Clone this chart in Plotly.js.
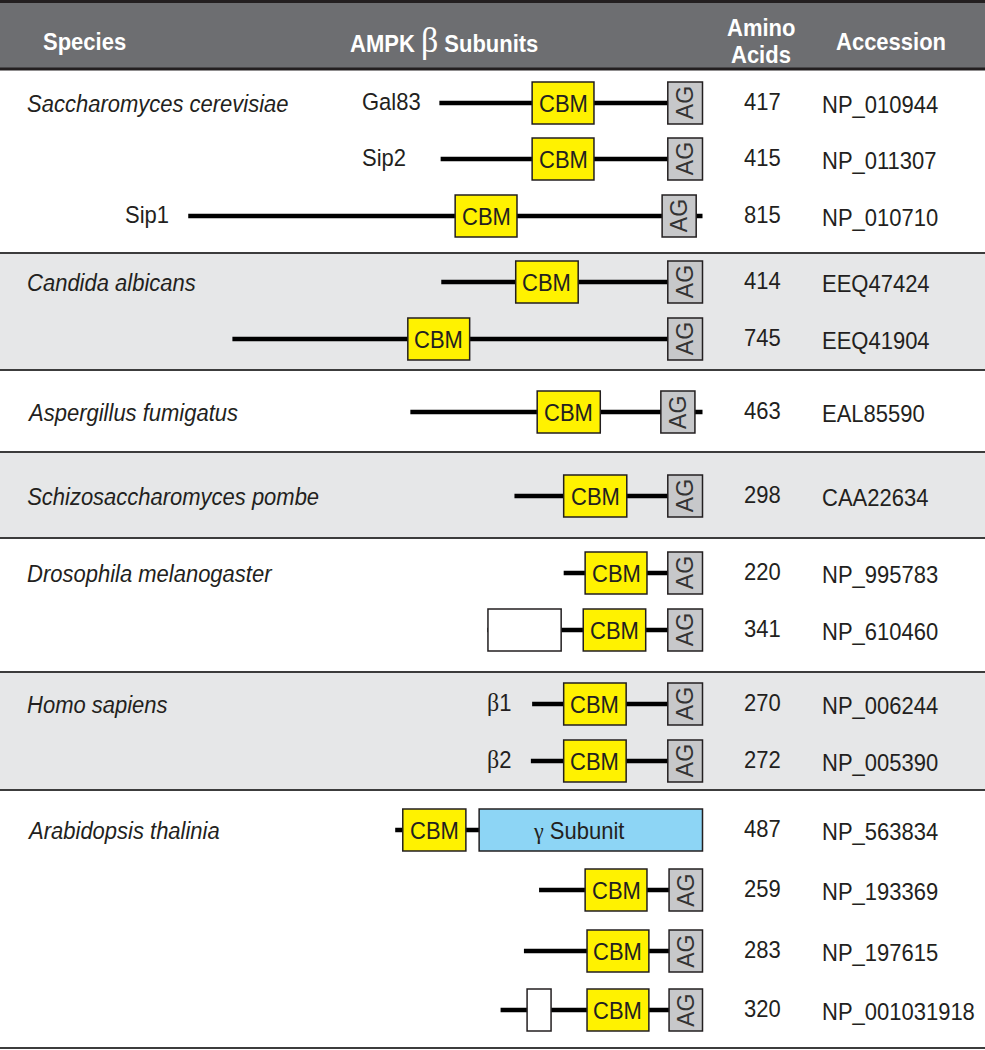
<!DOCTYPE html>
<html>
<head>
<meta charset="utf-8">
<script src="https://cdn.plot.ly/plotly-3.0.1.min.js"></script>
<style>
  body { margin: 0; background: #fff; }
  #chart { width: 985px; height: 1050px; }
</style>
</head>
<body>
<div id="chart"></div>
<script>
// species groups and how many beta subunits each has
var species = ['Saccharomyces cerevisiae', 'Candida albicans', 'Aspergillus fumigatus',
  'Schizosaccharomyces pombe', 'Drosophila melanogaster', 'Homo sapiens', 'Arabidopsis thalinia'];
var speciesRows = [3, 2, 1, 1, 2, 2, 4];

// one entry per beta subunit (residue numbers)
var subunitName = ['Gal83', 'Sip2', 'Sip1', '', '', '', '', '', '', 'β1', 'β2', '', '', '', ''];
var aminoAcids = [417, 415, 815, 414, 745, 463, 298, 220, 341, 270, 272, 487, 259, 283, 320];
var accession = ['NP_010944', 'NP_011307', 'NP_010710', 'EEQ47424', 'EEQ41904', 'EAL85590',
  'CAA22634', 'NP_995783', 'NP_610460', 'NP_006244', 'NP_005390', 'NP_563834',
  'NP_193369', 'NP_197615', 'NP_001031918'];
var cbmStart = [147, 145, 423, 118, 278, 201, 78, 34, 152, 50, 52, 12, 73, 100, 137];
var cbmEnd   = [245, 243, 521, 217, 376, 301, 178, 132, 251, 149, 151, 112, 171, 198, 235];
var agStart  = [362, 360, 751, 359, 690, 397, 243, 165, 286, 215, 217, null, 206, 230, 267];
var agEnd    = [417, 415, 805, 414, 745, 451, 298, 220, 341, 270, 272, null, 259, 283, 320];
// other domains: unlabeled boxes and the fused gamma subunit
var otherStart = [null, null, null, null, null, null, null, null, 1, null, null, 133, null, null, 42];
var otherEnd   = [null, null, null, null, null, null, null, null, 117, null, null, 487, null, null, 80];
var otherLabel = ['', '', '', '', '', '', '', '', '', '', '', 'γ Subunit', '', '', ''];

// page layout (pixels)
var rowY = [103, 159, 216, 282, 339, 412, 496, 573, 630, 704, 761, 830, 890, 951, 1010];
var groupEdges = [69, 253, 370, 452, 538, 672, 790, 1048];
var nameX = [360, 360, 123, 0, 0, 0, 0, 0, 0, 485, 485, 0, 0, 0, 0];

var W = 985, H = 1050;
var ink = '#231f20';
var boxH = 21;
var ts = 22;

// x axis: residues counted back from the C-terminus, 0.631 px per residue
var pxPerAA = 0.631, cTermPx = 702.5;
var xRange = [-cTermPx / pxPerAA, (W - cTermPx) / pxPerAA];

function px(p) { return p / W; }

var shapes = [];
var annotations = [];

// header band
shapes.push({type: 'rect', xref: 'paper', yref: 'y', x0: 0, x1: 1, y0: 0, y1: 69,
  fillcolor: '#6d6e71', line: {width: 0}, layer: 'below'});
shapes.push({type: 'line', xref: 'paper', yref: 'y', x0: 0, x1: 1, y0: 1.5, y1: 1.5,
  line: {color: ink, width: 3}});

// grey bands for every other species
for (var g = 0; g < species.length; g++) {
  if (g % 2 == 1) {
    shapes.push({type: 'rect', xref: 'paper', yref: 'y', x0: 0, x1: 1,
      y0: groupEdges[g], y1: groupEdges[g + 1], fillcolor: '#e6e7e8', line: {width: 0}, layer: 'below'});
  }
}
for (var e = 0; e < groupEdges.length; e++) {
  shapes.push({type: 'line', xref: 'paper', yref: 'y', x0: 0, x1: 1, y0: groupEdges[e], y1: groupEdges[e],
    line: {color: e == 0 ? ink : '#3c3c3c', width: e == 0 ? 3 : 2}});
}

// species names at the first row of each group
var r = 0;
for (var g = 0; g < species.length; g++) {
  annotations.push({xref: 'paper', yref: 'y', x: px(25), y: rowY[r], xanchor: 'left', yanchor: 'middle',
    text: '<i>' + species[g] + '</i>', showarrow: false, font: {size: ts, color: ink}});
  r += speciesRows[g];
}

// backbone lines, one trace with gaps
var lx = [], ly = [];
for (var i = 0; i < aminoAcids.length; i++) {
  lx.push(-aminoAcids[i], 0, null);
  ly.push(rowY[i], rowY[i], null);
}
var backbone = {x: lx, y: ly, type: 'scatter', mode: 'lines', hoverinfo: 'skip',
  line: {color: '#000', width: 4.5}, connectgaps: false};

function box(a, b, len, yc, fill) {
  return {type: 'rect', xref: 'x', yref: 'y', x0: a - len, x1: b - len,
    y0: yc - boxH, y1: yc + boxH, fillcolor: fill, line: {color: ink, width: 1.5}};
}

for (var i = 0; i < aminoAcids.length; i++) {
  var L = aminoAcids[i], yc = rowY[i];
  shapes.push(box(cbmStart[i], cbmEnd[i], L, yc, '#fff200'));
  annotations.push({x: (cbmStart[i] + cbmEnd[i]) / 2 - L, y: yc, text: 'CBM', showarrow: false,
    font: {size: ts, color: ink}});
  if (agStart[i] != null) {
    shapes.push(box(agStart[i], agEnd[i], L, yc, '#c7c8ca'));
    annotations.push({x: (agStart[i] + agEnd[i]) / 2 - L, y: yc, text: 'AG', textangle: -90,
      showarrow: false, font: {size: 23, color: '#333'}});
  }
  if (otherStart[i] != null) {
    var lab = otherLabel[i];
    shapes.push(box(otherStart[i], otherEnd[i], L, yc, lab ? '#8dd5f5' : '#ffffff'));
    if (lab) {
      annotations.push({x: (otherStart[i] + otherEnd[i]) / 2 - L, y: yc, xshift: -12,
        text: lab.replace('γ', "<span style='font-family:Liberation Serif;font-size:22px'>γ</span>"),
        showarrow: false, font: {size: ts, color: ink}});
    }
  }
  if (subunitName[i]) {
    annotations.push({xref: 'paper', yref: 'y', x: px(nameX[i]), y: yc - 2, xanchor: 'left',
      text: subunitName[i].replace('β', "<span style='font-family:Liberation Serif;font-size:24px'>β</span>"),
      showarrow: false, font: {size: ts, color: ink}});
  }
  annotations.push({xref: 'paper', yref: 'y', x: px(762), y: yc - 2, xanchor: 'center',
    text: String(L), showarrow: false, font: {size: ts, color: ink}});
  annotations.push({xref: 'paper', yref: 'y', x: px(820), y: yc + 1, xanchor: 'left',
    text: accession[i], showarrow: false, font: {size: ts, color: ink}});
}

// header texts
var hf = {size: 22, color: '#ffffff'};
annotations.push({xref: 'paper', yref: 'y', x: px(41), y: 41, xanchor: 'left', text: '<b>Species</b>', showarrow: false, font: hf});
annotations.push({xref: 'paper', yref: 'y', x: px(348), y: 39, xanchor: 'left',
  text: "<b>AMPK</b> <span style='font-family:Liberation Serif;font-size:34px'>β</span> <b>Subunits</b>",
  showarrow: false, font: hf});
annotations.push({xref: 'paper', yref: 'y', x: px(761), y: 27, xanchor: 'center', text: '<b>Amino</b>', showarrow: false, font: hf});
annotations.push({xref: 'paper', yref: 'y', x: px(761), y: 54, xanchor: 'center', text: '<b>Acids</b>', showarrow: false, font: hf});
annotations.push({xref: 'paper', yref: 'y', x: px(891), y: 41, xanchor: 'center', text: '<b>Accession</b>', showarrow: false, font: hf});

var layout = {
  width: W,
  height: H,
  margin: {l: 0, r: 0, t: 0, b: 0},
  paper_bgcolor: '#ffffff',
  plot_bgcolor: '#ffffff',
  showlegend: false,
  font: {family: 'Liberation Sans, Arial, sans-serif'},
  xaxis: {range: xRange, visible: false, fixedrange: true},
  yaxis: {range: [H, 0], visible: false, fixedrange: true},
  shapes: shapes,
  annotations: annotations
};

Plotly.newPlot('chart', [backbone], layout, {staticPlot: true}).then(function (gd) {
  // the original figure's lettering is a bit taller than plain Arial: stretch it vertically
  gd.querySelectorAll('g.annotation text.annotation-text').forEach(function (t) {
    if (t.textContent == 'AG') return;
    var b = t.getBBox();
    var cy = b.y + b.height / 2;
    var k = cy < 69 ? 1.08 : 1.2;
    t.setAttribute('transform', 'translate(0,' + cy + ') scale(1,' + k + ') translate(0,' + (-cy) + ')');
  });
});
</script>
</body>
</html>
